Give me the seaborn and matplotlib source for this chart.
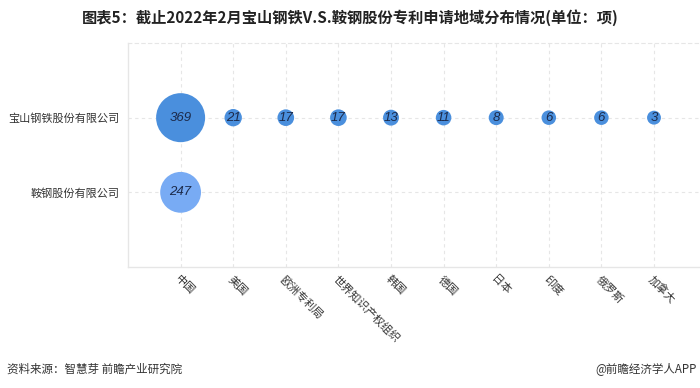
import matplotlib
matplotlib.use("Agg")
import matplotlib.pyplot as plt
import seaborn as sns
import pandas as pd

regions = ["中国", "美国", "欧洲专利局", "世界知识产权组织", "韩国", "德国", "日本", "印度", "俄罗斯", "加拿大"]
companies = ["宝山钢铁股份有限公司", "鞍钢股份有限公司"]
baosteel_values = [369, 21, 17, 17, 13, 11, 8, 6, 6, 3]
angang_values = [247]

title = "图表5：截止2022年2月宝山钢铁V.S.鞍钢股份专利申请地域分布情况(单位：项)"
source = "资料来源：智慧芽 前瞻产业研究院"
credit = "@前瞻经济学人APP"

rows = []
for r, v in zip(regions, baosteel_values):
    rows.append({"region": r, "company": companies[0], "value": v})
for r, v in zip(regions, angang_values):
    rows.append({"region": r, "company": companies[1], "value": v})
df = pd.DataFrame(rows)
df["xi"] = df["region"].map({r: i for i, r in enumerate(regions)})
df["yi"] = df["company"].map({c: i for i, c in enumerate(companies)})

sns.set_theme(style="white")
plt.rcParams["font.family"] = ["Noto Sans CJK SC", "DejaVu Sans"]

fig = plt.figure(figsize=(7, 3.88), dpi=100)
ax = fig.add_axes([128 / 700, (388 - 267) / 388, 1 - 128 / 700, (267 - 43) / 388])

palette = {companies[0]: "#4a8fdd", companies[1]: "#78abf4"}
sns.scatterplot(data=df, x="xi", y="yi", hue="company", palette=palette,
                size="value", sizes=(100, 1245), size_norm=(3, 369),
                linewidth=0, alpha=1, legend=False, ax=ax, zorder=3)

for _, row in df.iterrows():
    ax.text(row["xi"], row["yi"], str(row["value"]), ha="center", va="center",
            fontsize=9.5, family="Liberation Sans", style="italic",
            color="#1c2a4a", zorder=4)

ax.set_xlim(-1, (700 - 181) / 52.56)
ax.set_ylim(2, -1)
ax.set_xticks(range(len(regions)))
ax.set_xticklabels(regions, rotation=-45, ha="left", va="top",
                   rotation_mode="anchor", fontsize=8, color="#333333")
ax.set_yticks(range(len(companies)))
ax.set_yticklabels(companies, fontsize=8, color="#333333")
ax.tick_params(axis="x", length=0, pad=5)
ax.tick_params(axis="y", length=0, pad=6)
ax.set_xlabel("")
ax.set_ylabel("")

ax.grid(True, linestyle=(0, (3, 3)), color="#e6e6e6", linewidth=0.8, zorder=0)
ax.set_axisbelow(True)
for side in ["left", "bottom"]:
    ax.spines[side].set_color("#e6e6e6")
    ax.spines[side].set_linewidth(1)
ax.spines["top"].set_color("#e6e6e6")
ax.spines["top"].set_linestyle((0, (3, 3)))
ax.spines["top"].set_linewidth(0.8)
ax.spines["right"].set_visible(False)

fig.text(0.5, 1 - 18 / 388, title, ha="center", va="center",
         fontsize=11, fontweight="bold", color="#222222")
fig.text(7 / 700, 1 - 369 / 388, source, ha="left", va="center",
         fontsize=8.3, color="#333333")
fig.text(697 / 700, 1 - 369 / 388, credit, ha="right", va="center",
         fontsize=8.3, color="#333333")

fig.savefig("out.png", dpi=100)
